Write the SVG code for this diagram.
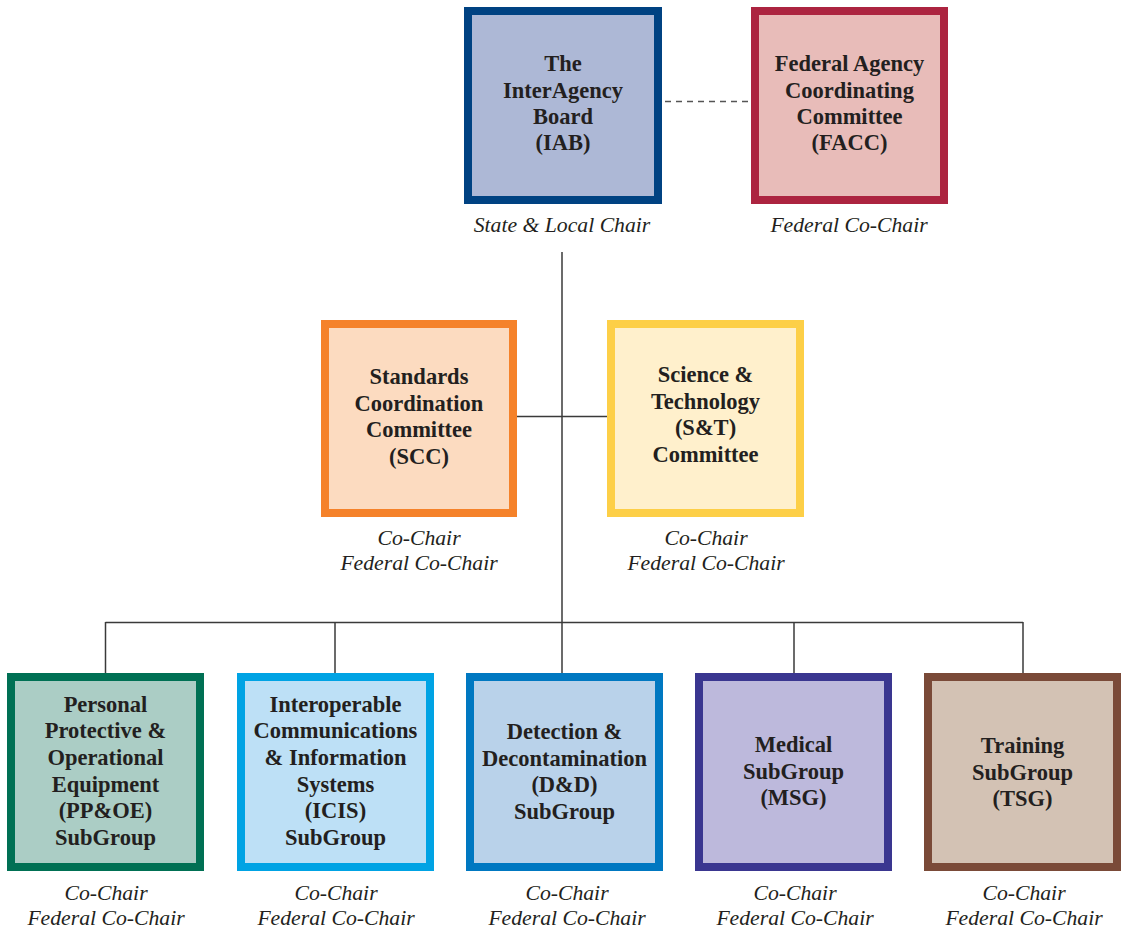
<svg xmlns="http://www.w3.org/2000/svg" width="1128" height="932" viewBox="0 0 1128 932">
<style>
.box{stroke-width:8}
.t{font-family:"Liberation Serif","Times New Roman",serif;font-weight:bold;font-size:22.5px;fill:#231f20;text-anchor:middle}
.c{font-family:"Liberation Serif","Times New Roman",serif;font-style:italic;font-size:21.7px;fill:#231f20;text-anchor:middle}
.ln{stroke:#3a3a3a;stroke-width:1.5;fill:none}
</style>
<rect width="1128" height="932" fill="#ffffff"/>
<g id="connectors">
<line class="ln" x1="562" y1="252" x2="562" y2="673"/>
<line class="ln" x1="517" y1="416.5" x2="607" y2="416.5"/>
<line class="ln" x1="105.5" y1="622.5" x2="1023" y2="622.5"/>
<line class="ln" x1="105.5" y1="622" x2="105.5" y2="673"/>
<line class="ln" x1="335" y1="622" x2="335" y2="673"/>
<line class="ln" x1="794" y1="622" x2="794" y2="673"/>
<line class="ln" x1="1023" y1="622" x2="1023" y2="673"/>
<line x1="665" y1="101.5" x2="749" y2="101.5" stroke="#555" stroke-width="1.3" stroke-dasharray="6,5"/>
</g>
<g id="iab">
<rect class="box" x="468" y="11" width="190" height="189" fill="#adb8d6" stroke="#004282"/>
<text class="t" x="563" y="71">The</text>
<text class="t" x="563" y="98">InterAgency</text>
<text class="t" x="563" y="124">Board</text>
<text class="t" x="563" y="150">(IAB)</text>
<text class="c" x="562" y="232" font-size="22.7">State &amp; Local Chair</text>
</g>
<g id="facc">
<rect class="box" x="755" y="11" width="189" height="189" fill="#e8bcb9" stroke="#ac2440"/>
<text class="t" x="849.5" y="71">Federal Agency</text>
<text class="t" x="849.5" y="98">Coordinating</text>
<text class="t" x="849.5" y="124">Committee</text>
<text class="t" x="849.5" y="150">(FACC)</text>
<text class="c" x="849" y="232">Federal Co-Chair</text>
</g>
<g id="scc">
<rect class="box" x="325" y="324" width="188" height="189" fill="#fcdbc0" stroke="#f5822a"/>
<text class="t" x="419" y="384">Standards</text>
<text class="t" x="419" y="410.5">Coordination</text>
<text class="t" x="419" y="437">Committee</text>
<text class="t" x="419" y="463.5">(SCC)</text>
<text class="c" x="419" y="545">Co-Chair</text>
<text class="c" x="419" y="570">Federal Co-Chair</text>
</g>
<g id="st">
<rect class="box" x="611" y="324" width="189" height="189" fill="#fff0cc" stroke="#fdcf47"/>
<text class="t" x="705.5" y="382">Science &amp;</text>
<text class="t" x="705.5" y="408.5">Technology</text>
<text class="t" x="705.5" y="435">(S&amp;T)</text>
<text class="t" x="705.5" y="461.5">Committee</text>
<text class="c" x="706" y="545">Co-Chair</text>
<text class="c" x="706" y="570">Federal Co-Chair</text>
</g>
<g id="ppoe">
<rect class="box" x="11" y="677" width="189" height="190" fill="#abcdc5" stroke="#007054"/>
<text class="t" x="105.5" y="711.5">Personal</text>
<text class="t" x="105.5" y="738">Protective &amp;</text>
<text class="t" x="105.5" y="765">Operational</text>
<text class="t" x="105.5" y="791.5">Equipment</text>
<text class="t" x="105.5" y="818">(PP&amp;OE)</text>
<text class="t" x="105.5" y="845">SubGroup</text>
<text class="c" x="106" y="900">Co-Chair</text>
<text class="c" x="106" y="925">Federal Co-Chair</text>
</g>
<g id="icis">
<rect class="box" x="241" y="677" width="189" height="190" fill="#bde0f6" stroke="#00a3e4"/>
<text class="t" x="335.5" y="711.5">Interoperable</text>
<text class="t" x="335.5" y="738">Communications</text>
<text class="t" x="335.5" y="765">&amp; Information</text>
<text class="t" x="335.5" y="791.5">Systems</text>
<text class="t" x="335.5" y="818">(ICIS)</text>
<text class="t" x="335.5" y="845">SubGroup</text>
<text class="c" x="336" y="900">Co-Chair</text>
<text class="c" x="336" y="925">Federal Co-Chair</text>
</g>
<g id="dd">
<rect class="box" x="470" y="677" width="189" height="190" fill="#b9d2ea" stroke="#0078c1"/>
<text class="t" x="564.5" y="739">Detection &amp;</text>
<text class="t" x="564.5" y="765.5">Decontamination</text>
<text class="t" x="564.5" y="792">(D&amp;D)</text>
<text class="t" x="564.5" y="818.5">SubGroup</text>
<text class="c" x="567" y="900">Co-Chair</text>
<text class="c" x="567" y="925">Federal Co-Chair</text>
</g>
<g id="msg">
<rect class="box" x="699" y="677" width="189" height="190" fill="#bdb9dc" stroke="#3a3690"/>
<text class="t" x="793.5" y="752">Medical</text>
<text class="t" x="793.5" y="778.5">SubGroup</text>
<text class="t" x="793.5" y="805">(MSG)</text>
<text class="c" x="795" y="900">Co-Chair</text>
<text class="c" x="795" y="925">Federal Co-Chair</text>
</g>
<g id="tsg">
<rect class="box" x="928" y="677" width="189" height="190" fill="#d3c2b4" stroke="#7a4a38"/>
<text class="t" x="1022.5" y="753">Training</text>
<text class="t" x="1022.5" y="779.5">SubGroup</text>
<text class="t" x="1022.5" y="806">(TSG)</text>
<text class="c" x="1024" y="900">Co-Chair</text>
<text class="c" x="1024" y="925">Federal Co-Chair</text>
</g>
</svg>
